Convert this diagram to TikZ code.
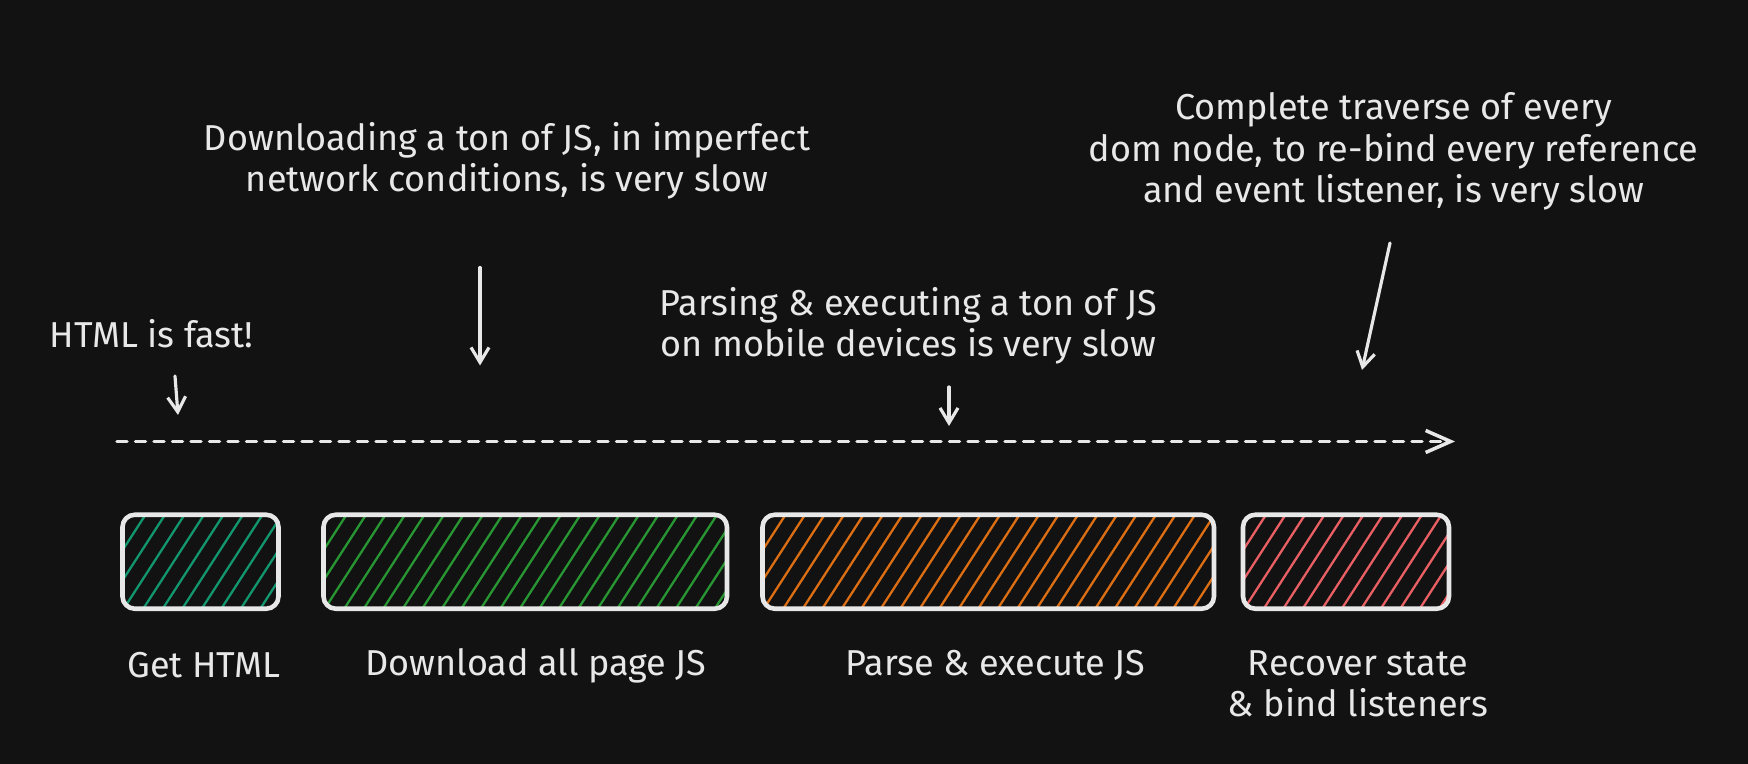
\documentclass[tikz,border=0pt]{standalone}
\usepackage{fontspec}
\setmainfont{Fira Sans}
\usetikzlibrary{arrows.meta,calc}

\begin{document}
\begin{tikzpicture}[line cap=round,line join=round,
  note/.style={font=\fontsize{20.5}{23.5}\selectfont,text=inkcol,align=center,inner sep=0pt},
  stage/.style={draw=inkcol,line width=2.6pt,rounded corners=7pt,
    minimum height=1.88cm,inner sep=0pt,
    path picture={\foreach \i in {0,...,28}
      \draw[#1,line width=1.3pt]
        ($(path picture bounding box.south west)+(\i*0.39-1.21,-0.1)$) -- ++(1.28,1.98);}},
  pointer/.style={-{Straight Barb[length=3mm,width=3.6mm]},line width=1.8pt,draw=inkcol},
  timeline/.style={-{Straight Barb[length=5mm,width=4.4mm]},line width=2pt,draw=inkcol,
    dash pattern=on 0.2cm off 0.17cm}]
  \definecolor{bgcol}{RGB}{18,18,18}
  \definecolor{inkcol}{RGB}{232,232,232}
  \definecolor{htmlcol}{RGB}{18,150,110}
  \definecolor{loadcol}{RGB}{40,150,50}
  \definecolor{parsecol}{RGB}{220,110,20}
  \definecolor{bindcol}{RGB}{232,95,100}

  % background
  \fill[bgcol] (0,0) rectangle (34.96,15.28);
  \useasboundingbox (0,0) rectangle (34.96,15.28);

  % ---- notes above the timeline ----
  \node[note] (fast) at (3.03,8.6) {HTML is fast!};
  \node[note] (download) at (10.14,12.07)
    {Downloading a ton of JS, in imperfect\\network conditions, is very slow};
  \node[note] (parsing) at (18.17,8.76)
    {Parsing \& executing a ton of JS\\on mobile devices is very slow};
  \node[note] (traverse) at (27.87,12.25)
    {Complete traverse of every\\dom node, to re-bind every reference\\and event listener, is very slow};

  % pointers down to the timeline
  \coordinate (fastFrom) at (3.5,7.76);
  \coordinate (fastTo) at (3.56,6.98);
  \coordinate (downloadFrom) at (9.6,9.93);
  \coordinate (downloadTo) at (9.6,7.97);
  \coordinate (parsingFrom) at (18.98,7.54);
  \coordinate (parsingTo) at (18.98,6.76);
  \coordinate (traverseFrom) at (27.8,10.42);
  \coordinate (traverseTo) at (27.24,7.88);
  \draw[pointer] (fastFrom) -- (fastTo);
  \draw[pointer] (downloadFrom) -- (downloadTo);
  \draw[pointer] (parsingFrom) -- (parsingTo);
  \draw[pointer] (traverseFrom) -- (traverseTo);

  % ---- timeline ----
  \coordinate (tlStart) at (2.34,6.45);
  \coordinate (tlEnd) at (29.1,6.45);
  \draw[timeline] (tlStart) -- (tlEnd);

  % ---- stages ----
  \node[stage=htmlcol,minimum width=3.12cm] (html) at (4.01,4.045) {};
  \node[stage=loadcol,minimum width=8.07cm] (load) at (10.505,4.045) {};
  \node[stage=parsecol,minimum width=9.03cm] (parse) at (19.765,4.045) {};
  \node[stage=bindcol,minimum width=4.12cm] (bind) at (26.92,4.045) {};

  % stage labels
  \node[note] (htmlLabel) at (4.08,1.97) {Get HTML};
  \node[note] (loadLabel) at (10.72,1.97) {Download all page JS};
  \node[note] (parseLabel) at (19.91,1.97) {Parse \& execute JS};
  \node[note] (bindLabel) at (27.16,1.6) {Recover state\\\& bind listeners};
\end{tikzpicture}
\end{document}
